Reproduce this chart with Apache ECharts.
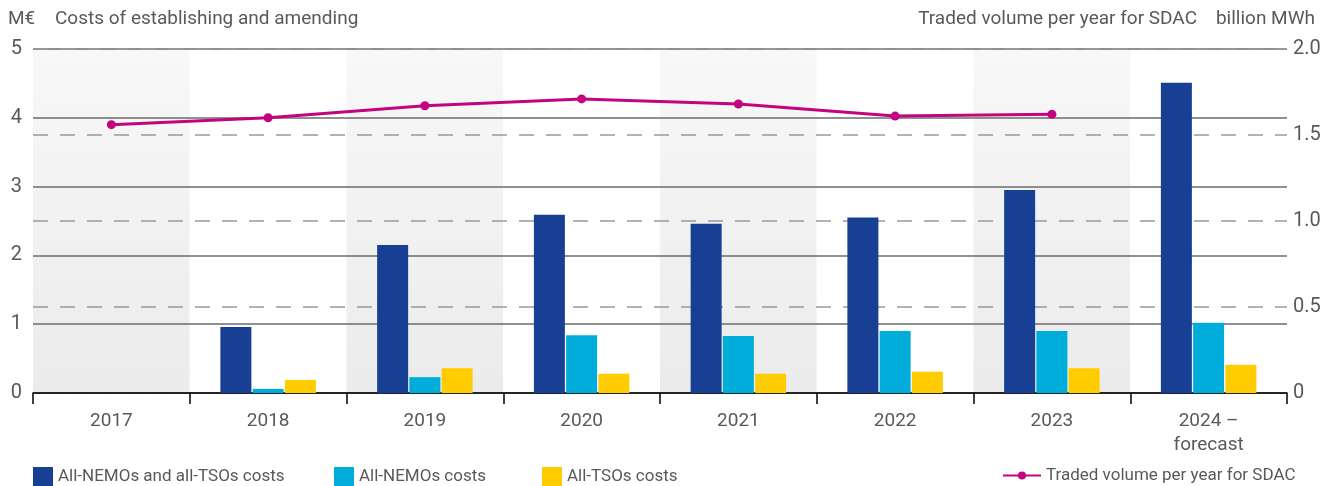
<!DOCTYPE html>
<html>
<head>
<meta charset="utf-8">
<script src="https://cdn.jsdelivr.net/npm/echarts@6/dist/echarts.min.js"></script>
<style>
* { margin: 0; padding: 0; }
html, body { width: 1333px; height: 486px; background: #fff; }
#main { width: 1333px; height: 486px; }
</style>
</head>
<body>
<div id="main"></div>
<script>
// data
var years = ["2017", "2018", "2019", "2020", "2021", "2022", "2023", "2024 –\nforecast"];
var allCosts = [null, 0.96, 2.15, 2.59, 2.46, 2.55, 2.95, 4.51];
var nemoCosts = [null, 0.06, 0.23, 0.84, 0.83, 0.90, 0.90, 1.02];
var tsoCosts = [null, 0.19, 0.36, 0.28, 0.28, 0.31, 0.36, 0.41];
var tradedVolume = [1.56, 1.60, 1.67, 1.71, 1.68, 1.61, 1.62, null];
var leftTicks = [0, 1, 2, 3, 4, 5];
var rightTicks = [0, 0.5, 1.0, 1.5, 2.0];

var textColor = "#595959";
var font = "Roboto";

var band = new echarts.graphic.LinearGradient(0, 0, 0, 1, [
  { offset: 0, color: "#f8f8f8" },
  { offset: 1, color: "#ebebeb" }
]);

var legendText = { color: textColor, fontSize: 17, fontFamily: font };

var chart = echarts.init(document.getElementById("main"));
chart.setOption({
  animation: false,
  textStyle: { fontFamily: font },
  grid: { left: 33, right: 46, top: 49, bottom: 93 },
  graphic: [
    { type: "text", left: 8, top: 10, style: { text: "M€", fill: textColor, font: "19px Roboto" } },
    { type: "text", left: 55, top: 10, style: { text: "Costs of establishing and amending", fill: textColor, font: "19px Roboto" } },
    { type: "text", right: 136, top: 10, style: { text: "Traded volume per year for SDAC", fill: textColor, font: "19px Roboto" } },
    { type: "text", right: 18, top: 10, style: { text: "billion MWh", fill: textColor, font: "19px Roboto" } }
  ],
  legend: [
    { left: 33, top: 467, padding: 0, itemWidth: 20, itemHeight: 20, icon: "rect",
      textStyle: legendText, data: ["All-NEMOs and all-TSOs costs"] },
    { left: 334, top: 467, padding: 0, itemWidth: 20, itemHeight: 20, icon: "rect",
      textStyle: legendText, data: ["All-NEMOs costs"] },
    { left: 542, top: 467, padding: 0, itemWidth: 20, itemHeight: 20, icon: "rect",
      textStyle: legendText, data: ["All-TSOs costs"] },
    { left: 1002, top: 467, padding: 0, itemWidth: 38, itemHeight: 10,
      textStyle: legendText, data: ["Traded volume per year for SDAC"] }
  ],
  xAxis: [
    {
      type: "category",
      data: years,
      boundaryGap: true,
      z: 2,
      axisLine: { show: true, lineStyle: { color: "#000", width: 1.5 } },
      axisTick: { show: true, length: 11, lineStyle: { color: "#000", width: 1.5 } },
      axisLabel: { color: textColor, fontSize: 19, margin: 16, lineHeight: 24, fontFamily: font },
      splitArea: { show: false }
    },
    {
      // background bands only
      type: "category",
      data: years,
      boundaryGap: true,
      position: "bottom",
      z: 0,
      axisLine: { show: false }, axisTick: { show: false }, axisLabel: { show: false },
      splitLine: { show: false },
      splitArea: { show: true, areaStyle: { color: [band, "#ffffff"] } }
    }
  ],
  yAxis: [
    {
      type: "value", min: leftTicks[0], max: leftTicks[leftTicks.length - 1], interval: 1,
      z: 1,
      axisLine: { show: false }, axisTick: { show: false },
      axisLabel: { color: textColor, fontSize: 20, margin: 11, fontFamily: font },
      splitLine: { show: true, lineStyle: { color: "#6b6b6b", width: 1.5 } }
    },
    {
      type: "value", min: rightTicks[0], max: rightTicks[rightTicks.length - 1], interval: 0.5,
      z: 1,
      axisLine: { show: false }, axisTick: { show: false },
      axisLabel: { color: textColor, fontSize: 20, margin: 6, fontFamily: font,
        formatter: function (v) { return v === 0 ? "0" : v.toFixed(1); } },
      splitLine: { show: true, lineStyle: { color: "#999", width: 1.5, type: [15, 12] } }
    }
  ],
  series: [
    { name: "All-NEMOs and all-TSOs costs", type: "bar", data: allCosts, barWidth: 31, barGap: "4%",
      z: 3, itemStyle: { color: "#174094" } },
    { name: "All-NEMOs costs", type: "bar", data: nemoCosts, barWidth: 31, barGap: "4%",
      z: 3, itemStyle: { color: "#00acd9" } },
    { name: "All-TSOs costs", type: "bar", data: tsoCosts, barWidth: 31, barGap: "4%",
      z: 3, itemStyle: { color: "#ffcc00" } },
    { name: "Traded volume per year for SDAC", type: "line", yAxisIndex: 1, data: tradedVolume,
      symbol: "circle", symbolSize: 9, z: 5,
      lineStyle: { color: "#c4047f", width: 3 }, itemStyle: { color: "#c4047f" } }
  ]
});
</script>
</body>
</html>
